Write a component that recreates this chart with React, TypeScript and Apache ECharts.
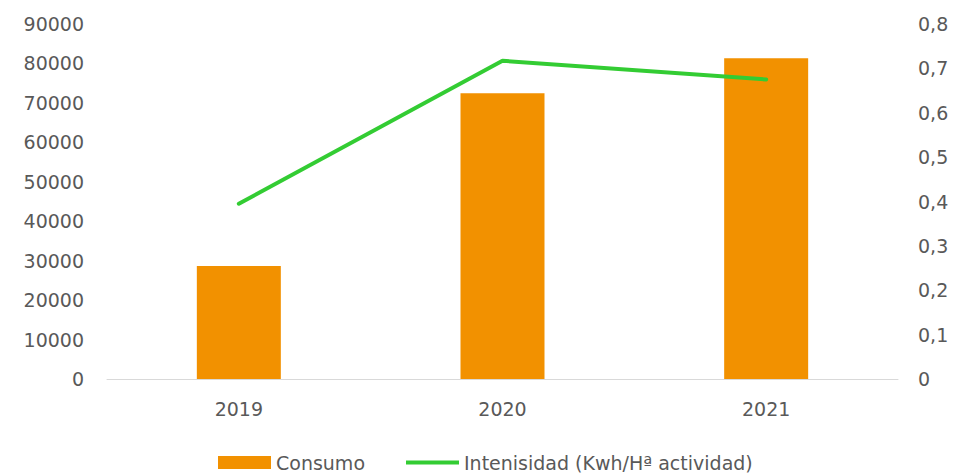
import React, { useEffect, useRef } from "react";
import * as echarts from "echarts";

const categories = ["2019", "2020", "2021"];
const consumo = [28650, 72450, 81300];
const intensidad = [0.395, 0.717, 0.675];
const leftTicks = { min: 0, max: 90000, interval: 10000 };
const rightTicks = { min: 0, max: 0.8, interval: 0.1 };

const FONT = "DejaVu Sans";
const GRAY = "#595959";
const FS = 19;

export default function App() {
  const ref = useRef<HTMLDivElement>(null);
  useEffect(() => {
    const chart = echarts.init(ref.current!, null, { renderer: "svg" });
    chart.setOption({
      animation: false,
      textStyle: { fontFamily: FONT },
      grid: { left: 107, right: 55, top: 24, bottom: 95 },
      legend: {
        left: 213,
        top: 448,
        itemWidth: 53,
        itemHeight: 13,
        itemGap: 41,
        textStyle: { color: GRAY, fontSize: FS, fontFamily: FONT },
        data: [
          { name: "Consumo", icon: "rect" },
          { name: "Intenisidad (Kwh/Hª actividad)", icon: "path://M0,0 H53 V4 H0 Z" },
        ],
      },
      xAxis: {
        type: "category",
        data: categories,
        axisLine: { lineStyle: { color: "#d9d9d9", width: 1 } },
        axisTick: { show: false },
        axisLabel: { color: GRAY, fontSize: FS, margin: 20, fontFamily: FONT },
      },
      yAxis: [
        {
          type: "value",
          ...leftTicks,
          splitLine: { show: false },
          axisLine: { show: false },
          axisTick: { show: false },
          axisLabel: {
            color: GRAY,
            fontSize: FS,
            margin: 23,
            fontFamily: FONT,
            formatter: (v: number) => String(v),
          },
        },
        {
          type: "value",
          ...rightTicks,
          position: "right",
          splitLine: { show: false },
          axisLine: { show: false },
          axisTick: { show: false },
          axisLabel: {
            color: GRAY,
            fontSize: FS,
            margin: 20,
            fontFamily: FONT,
            formatter: (v: number) => (v === 0 ? "0" : v.toFixed(1).replace(".", ",")),
          },
        },
      ],
      series: [
        {
          name: "Consumo",
          type: "bar",
          data: consumo,
          yAxisIndex: 0,
          barWidth: 84,
          itemStyle: { color: "#F29100" },
        },
        {
          name: "Intenisidad (Kwh/Hª actividad)",
          type: "line",
          data: intensidad,
          yAxisIndex: 1,
          symbol: "none",
          lineStyle: { color: "#33CC33", width: 4, cap: "round" },
          itemStyle: { color: "#33CC33" },
        },
      ],
    });
    return () => chart.dispose();
  }, []);
  return (
    <div
      ref={ref}
      style={{ position: "absolute", left: 0, top: 0, width: 953, height: 474, background: "#fff" }}
    />
  );
}
